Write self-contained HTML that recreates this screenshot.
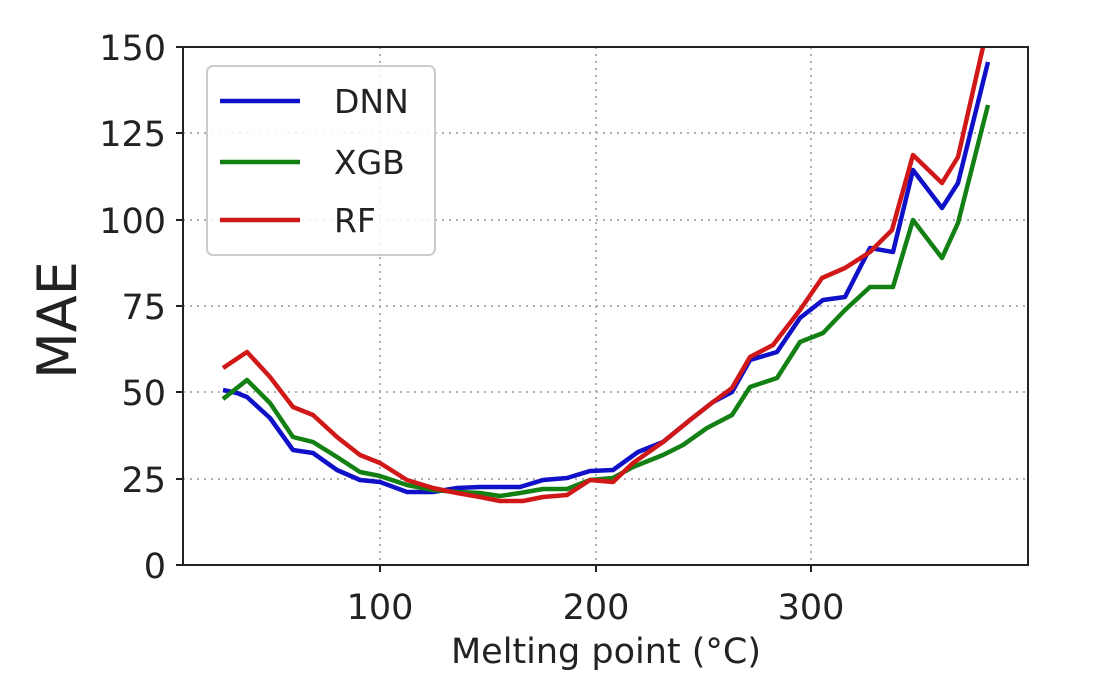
<!DOCTYPE html>
<html><head><style>body{margin:0;background:#fff}</style></head><body>
<svg width="1096" height="693" xmlns="http://www.w3.org/2000/svg" font-family="'DejaVu Sans','Liberation Sans',sans-serif">
<rect width="1096" height="693" fill="#fff"/>
<g stroke="#b0b0b0" stroke-width="2" stroke-dasharray="2,5">
<line x1="380" y1="47" x2="380" y2="565"/><line x1="596" y1="47" x2="596" y2="565"/><line x1="811" y1="47" x2="811" y2="565"/>
<line x1="183" y1="479" x2="1028" y2="479"/><line x1="183" y1="392" x2="1028" y2="392"/><line x1="183" y1="306" x2="1028" y2="306"/><line x1="183" y1="220" x2="1028" y2="220"/><line x1="183" y1="133" x2="1028" y2="133"/>
</g>
<g fill="none" stroke-width="4.5" stroke-linejoin="round">
<polyline stroke="#1010c8" points="223,390 237,393 247,397 270,418 293,450 313,453 337,470 360,480 380,482 407,492 433,492 457,488 480,487 520,487 543,480 567,478 590,471 613,470 638,452 663,442 690,420 713,402 732,392 750,360 777,352 800,318 823,300 845,297 870,248 893,252 913,170 942,208 958,183 988,62"/>
<polyline stroke="#138013" points="223,399 247,380 270,403 293,437 313,442 337,457 360,472 380,476 407,485 433,490 457,492 480,493 500,496 520,493 543,489 567,489 590,480 613,478 633,467 663,455 683,445 707,428 732,415 750,387 777,378 800,342 823,333 845,310 870,287 893,287 913,220 942,258 958,223 988,105"/>
<polyline stroke="#d01818" points="223,368 247,352 270,377 293,407 313,415 337,437 360,455 380,463 407,480 433,488 457,493 480,497 500,501 523,501 543,497 567,495 590,480 613,482 633,463 663,442 690,420 713,402 732,388 750,357 773,345 800,310 822,278 845,268 870,252 892,230 913,155 942,183 958,157 983,47"/>
</g>
<rect x="183" y="47" width="845" height="518" fill="none" stroke="#222" stroke-width="2"/>
<g stroke="#222" stroke-width="2">
<line x1="176" y1="565" x2="183" y2="565"/><line x1="176" y1="479" x2="183" y2="479"/><line x1="176" y1="392" x2="183" y2="392"/><line x1="176" y1="306" x2="183" y2="306"/><line x1="176" y1="220" x2="183" y2="220"/><line x1="176" y1="133" x2="183" y2="133"/><line x1="176" y1="47" x2="183" y2="47"/>
<line x1="380" y1="565" x2="380" y2="572"/><line x1="596" y1="565" x2="596" y2="572"/><line x1="811" y1="565" x2="811" y2="572"/>
</g>
<g font-size="35" fill="#222" text-anchor="end">
<text x="166" y="578">0</text><text x="166" y="492">25</text><text x="166" y="405">50</text><text x="166" y="319">75</text><text x="166" y="233">100</text><text x="166" y="146">125</text><text x="166" y="60">150</text>
</g>
<g font-size="35" fill="#222" text-anchor="middle">
<text x="380" y="619">100</text><text x="596" y="619">200</text><text x="811" y="619">300</text>
<text x="606" y="663">Melting point (°C)</text>
</g>
<text transform="translate(76,320) rotate(-90)" font-size="54" fill="#222" text-anchor="middle">MAE</text>
<rect x="207" y="66" width="228" height="189" rx="6" fill="#fff" fill-opacity="0.85" stroke="#ccc" stroke-width="2"/>
<g stroke-width="4.5"><line x1="220" y1="101" x2="300" y2="101" stroke="#1010c8"/><line x1="220" y1="162" x2="300" y2="162" stroke="#138013"/><line x1="220" y1="220" x2="300" y2="220" stroke="#d01818"/></g>
<g font-size="33" fill="#222"><text x="334" y="113">DNN</text><text x="334" y="174">XGB</text><text x="334" y="232">RF</text></g>
</svg>
</body></html>
